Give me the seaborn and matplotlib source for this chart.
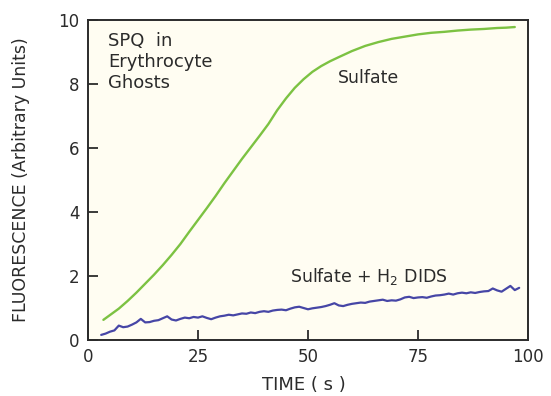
import matplotlib
matplotlib.use("Agg")
import matplotlib.pyplot as plt
import pandas as pd
import seaborn as sns

# Fluorescence traces of SPQ in erythrocyte ghosts
sulfate_t = [3.5, 5, 7, 9, 11, 13, 15, 17, 19, 21, 23, 25, 27, 29, 31, 33, 35, 37, 39, 41,
             43, 45, 47, 49, 51, 53, 55, 57, 60, 63, 66, 69, 72, 75, 78, 81, 84, 87, 90,
             93, 95, 97]
sulfate_f = [0.63, 0.78, 0.98, 1.22, 1.48, 1.76, 2.04, 2.34, 2.66, 3.0, 3.38, 3.75, 4.12,
             4.5, 4.9, 5.28, 5.66, 6.02, 6.38, 6.75, 7.18, 7.55, 7.88, 8.15, 8.38, 8.56,
             8.71, 8.84, 9.03, 9.19, 9.31, 9.41, 9.48, 9.55, 9.6, 9.63, 9.67, 9.7, 9.72,
             9.75, 9.76, 9.78]

dids_t = list(range(3, 99))
dids_f = [0.16, 0.20, 0.26, 0.30, 0.45, 0.40, 0.42,
          0.48, 0.55, 0.66, 0.55, 0.56, 0.60, 0.62, 0.68, 0.74, 0.64,
          0.61, 0.66, 0.70, 0.68, 0.72, 0.70, 0.74, 0.69, 0.65, 0.70,
          0.74, 0.76, 0.79, 0.77, 0.80, 0.83, 0.82, 0.86, 0.84, 0.88,
          0.90, 0.88, 0.92, 0.94, 0.95, 0.93, 0.98, 1.02, 1.04, 1.00,
          0.96, 0.99, 1.01, 1.03, 1.06, 1.10, 1.15, 1.08, 1.06, 1.10,
          1.13, 1.15, 1.17, 1.16, 1.20, 1.22, 1.24, 1.26, 1.22, 1.24,
          1.23, 1.27, 1.33, 1.35, 1.31, 1.33, 1.34, 1.32, 1.36, 1.39,
          1.40, 1.42, 1.45, 1.42, 1.46, 1.48, 1.46, 1.49, 1.47, 1.50,
          1.52, 1.53, 1.61, 1.55, 1.51, 1.60, 1.69, 1.56, 1.63]

x_ticks = [0, 25, 50, 75, 100]
y_ticks = [0, 2, 4, 6, 8, 10]

sns.set_style("ticks")
plt.rcParams["font.family"] = ["DejaVu Sans"]
plt.rcParams["mathtext.fontset"] = "dejavusans"

ink = "#2b2b2b"
green = "#7cc242"
blue = "#4646a6"

fig = plt.figure(figsize=(5.51, 3.96), dpi=100)
fig.patch.set_facecolor("white")
ax = fig.add_axes([0.1597, 0.1414, 0.7985, 0.8081])
ax.set_facecolor("#fffdf2")

df_s = pd.DataFrame({"t": sulfate_t, "f": sulfate_f})
df_d = pd.DataFrame({"t": dids_t, "f": dids_f})
sns.lineplot(data=df_s, x="t", y="f", ax=ax, color=green, linewidth=1.7)
sns.lineplot(data=df_d, x="t", y="f", ax=ax, color=blue, linewidth=1.6)

ax.set_xlim(0, 100)
ax.set_ylim(0, 10)
ax.set_xticks(x_ticks)
ax.set_yticks(y_ticks)
ax.set_xticklabels([str(v) for v in x_ticks])
ax.set_yticklabels([str(v) for v in y_ticks])
ax.tick_params(direction="in", length=7, width=1.3, colors=ink, labelsize=12, pad=6)
for s in ax.spines.values():
    s.set_visible(True)
    s.set_linewidth(1.4)
    s.set_color(ink)

ax.set_xlabel("TIME ( s )", fontsize=13, color=ink)
ax.set_ylabel("FLUORESCENCE (Arbitrary Units)", fontsize=12.5, color=ink)
ax.xaxis.set_label_coords(0.49, -0.112)
ax.yaxis.set_label_coords(-0.132, 0.5)

ax.text(4.5, 9.62, "SPQ  in\nErythrocyte\nGhosts", fontsize=13, color=ink,
        va="top", ha="left", linespacing=1.2)
ax.text(56.8, 8.2, "Sulfate", fontsize=12.5, color=ink, va="center", ha="left")
ax.text(45.9, 1.98, "Sulfate + H$_2$ DIDS", fontsize=12.5, color=ink,
        va="center", ha="left")

fig.savefig("out.png", dpi=100)
